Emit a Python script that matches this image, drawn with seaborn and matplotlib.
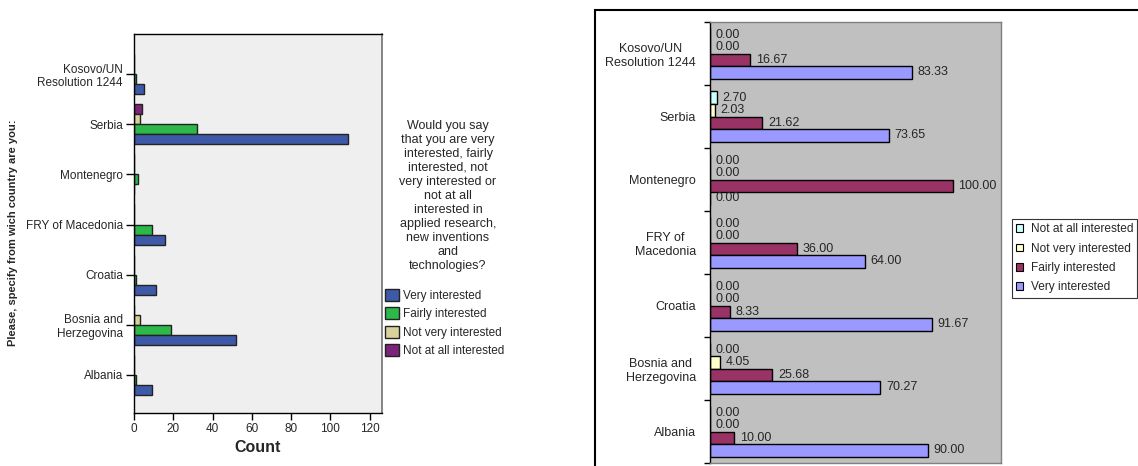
import matplotlib
matplotlib.use("Agg")
import matplotlib.pyplot as plt
from matplotlib.patches import Rectangle, Patch
import numpy as np
import pandas as pd
import seaborn as sns

# --- data -------------------------------------------------------------
countries = ["Kosovo", "Serbia", "Montenegro", "Macedonia", "Croatia", "Bosnia", "Albania"]
left_labels = ["Kosovo/UN\nResolution 1244", "Serbia", "Montenegro", "FRY of Macedonia",
               "Croatia", "Bosnia and\nHerzegovina", "Albania"]
right_labels = ["Kosovo/UN\nResolution 1244", "Serbia", "Montenegro", "FRY of\nMacedonia",
                "Croatia", "Bosnia and\nHerzegovina", "Albania"]
levels = ["Not at all interested", "Not very interested", "Fairly interested", "Very interested"]

# counts per answer
cnt_very = [5, 109, 0, 16, 11, 52, 9]
cnt_fairly = [1, 32, 2, 9, 1, 19, 1]
cnt_not_very = [0, 3, 0, 0, 0, 3, 0]
cnt_not_at_all = [0, 4, 0, 0, 0, 0, 0]

# row percentages per answer
pct_very = [83.33, 73.65, 0.00, 64.00, 91.67, 70.27, 90.00]
pct_fairly = [16.67, 21.62, 100.00, 36.00, 8.33, 25.68, 10.00]
pct_not_very = [0.00, 2.03, 0.00, 0.00, 0.00, 4.05, 0.00]
pct_not_at_all = [0.00, 2.70, 0.00, 0.00, 0.00, 0.00, 0.00]

question = ("Would you say\nthat you are very\ninterested, fairly\ninterested, not\n"
            "very interested or\nnot at all\ninterested in\napplied research,\n"
            "new inventions\nand\ntechnologies?")


def long_table(series):
    rows = []
    for level, vals in zip(levels, series):
        for c, v in zip(countries, vals):
            rows.append({"country": c, "response": level, "value": v})
    return pd.DataFrame(rows)


df_cnt = long_table([cnt_not_at_all, cnt_not_very, cnt_fairly, cnt_very])
df_pct = long_table([pct_not_at_all, pct_not_very, pct_fairly, pct_very])

# --- style ------------------------------------------------------------
sns.set_style("white")
plt.rcParams["font.family"] = ["Liberation Sans", "DejaVu Sans"]

spss_colors = {"Very interested": "#3E59A8", "Fairly interested": "#2DB84A",
               "Not very interested": "#D8D199", "Not at all interested": "#7B2479"}
excel_colors = {"Very interested": "#9999FF", "Fairly interested": "#993366",
                "Not very interested": "#FFFFCC", "Not at all interested": "#CCFFFF"}

W, H = 1138, 466
fig = plt.figure(figsize=(W / 100, H / 100), dpi=100)


def fx(px):
    return px / W


def fy(py):
    return 1 - py / H


# --- left: counts -----------------------------------------------------
axL = fig.add_axes([fx(134), fy(413), fx(382) - fx(134), fy(34) - fy(413)])
sns.barplot(data=df_cnt, x="value", y="country", hue="response", order=countries,
            hue_order=levels, palette=spss_colors, saturation=1, orient="y",
            errorbar=None, edgecolor="#222222", linewidth=1, legend=False, ax=axL)
axL.set_facecolor("#EFEFEF")
axL.set_xlim(0, 126.3)
axL.set_ylim(6.76, -0.8)
axL.set_xticks(range(0, 121, 20))
axL.set_yticks(range(len(countries)))
axL.set_yticklabels(left_labels, fontsize=8.5)
axL.tick_params(axis="x", labelsize=8.5, direction="out", length=5, width=1,
                color="black", pad=2, bottom=True)
axL.tick_params(axis="y", direction="out", length=6, width=1, color="black", pad=2, left=True)
axL.set_xlabel("Count", fontsize=11.5, fontweight="bold", labelpad=4)
axL.set_ylabel("")
for side in ["left", "bottom", "top"]:
    axL.spines[side].set_color("black")
    axL.spines[side].set_linewidth(1)
axL.spines["right"].set_color("#707070")
axL.spines["right"].set_linewidth(1.2)

fig.text(fx(13), fy(233), "Please, specify from wich country are you:", rotation=90,
         ha="center", va="center", fontsize=8, fontweight="bold")

fig.text(fx(448), fy(120), question, ha="center", va="top", fontsize=9,
         linespacing=1.22, multialignment="center")
left_handles = [Patch(facecolor=spss_colors[l], edgecolor="#222222", linewidth=1)
                for l in levels[::-1]]
fig.legend(left_handles, levels[::-1], loc="upper left",
           bbox_to_anchor=(fx(385), fy(289)), frameon=False, fontsize=8.5,
           handlelength=1.15, handleheight=1.2, handletextpad=0.4,
           labelspacing=0.45, borderpad=0, borderaxespad=0)

# --- right: percentages -----------------------------------------------
axR = fig.add_axes([fx(710), fy(463), fx(1001) - fx(710), fy(22) - fy(463)])
sns.barplot(data=df_pct, x="value", y="country", hue="response", order=countries,
            hue_order=levels, palette=excel_colors, saturation=1, orient="y",
            errorbar=None, edgecolor="black", linewidth=1, legend=False, ax=axR)
axR.set_facecolor("#C0C0C0")
axR.set_xlim(0, 120)
axR.set_ylim(6.5, -0.5)
axR.set_xticks([])
axR.set_xlabel("")
axR.set_ylabel("")
axR.set_yticks(range(len(countries)))
axR.set_yticklabels(right_labels, fontsize=9, multialignment="center")
axR.set_yticks(np.arange(-0.5, len(countries), 1), minor=True)
axR.tick_params(axis="y", which="major", length=0, pad=10)
axR.tick_params(axis="y", which="minor", direction="out", length=4, width=1,
                color="black", left=True)
for c in axR.containers:
    axR.bar_label(c, fmt="%.2f", padding=4, fontsize=9)
axR.spines["left"].set_color("black")
axR.spines["left"].set_linewidth(1)
for side in ["top", "right", "bottom"]:
    axR.spines[side].set_color("#808080")
    axR.spines[side].set_linewidth(1)

right_handles = [Patch(facecolor=excel_colors[l], edgecolor="black", linewidth=0.8)
                 for l in levels]
legR = fig.legend(right_handles, levels, loc="upper left",
                  bbox_to_anchor=(fx(1012), fy(219)), frameon=True, fancybox=False,
                  edgecolor="black", fontsize=8.6, handlelength=0.6, handleheight=0.6,
                  handletextpad=0.6, labelspacing=0.62, borderpad=0.35, borderaxespad=0)
legR.get_frame().set_linewidth(0.8)

# chart-area border around the percentage chart
fig.add_artist(Rectangle((fx(595), -0.05), 1.1 - fx(595), fy(10) + 0.05,
                         transform=fig.transFigure, fill=False,
                         edgecolor="black", linewidth=1.5))

fig.savefig("out.png", dpi=100)
